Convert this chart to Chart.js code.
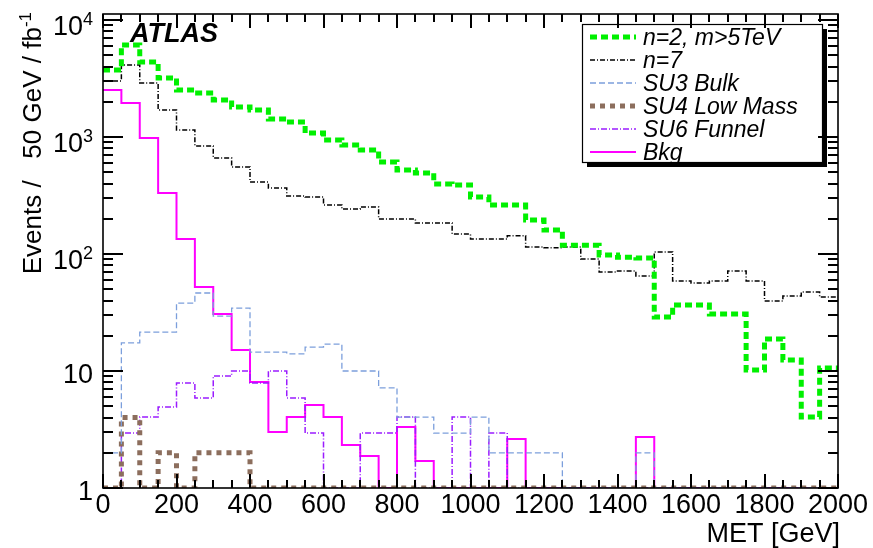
<!DOCTYPE html>
<html>
<head>
<meta charset="utf-8">
<script src="https://cdn.jsdelivr.net/npm/chart.js@4/dist/chart.umd.min.js"></script>
</head>
<body style="margin:0;background:#fff">
<canvas id="c" width="873" height="548"></canvas>
<script>
// ---- data: MET bins (lower edges, GeV), 50 GeV wide ----
const binLow = [0,50,100,150,200,250,300,350,400,450,500,550,600,650,700,750,800,850,900,950,
  1000,1050,1100,1150,1200,1250,1300,1350,1400,1450,1500,1550,1600,1650,1700,1750,1800,1850,1900,1950];
const binHighEnd = 2000;

const n2m5 = [3740,6110,4375,3190,2520,2380,2070,1800,1700,1425,1340,1080,943,855,774,611,522,492,397,389,
  307,262,262,195,160,119,119,98,94,92.5,28.9,36.6,36.6,30.7,30.7,10.2,18.8,12.4,4.04,10.6];
const n7 = [3010,4120,2900,1700,1150,838,662,554,412,366,313,307,262,242,252,199,199,184,184,148,
  134,134,143,115,113,115,90.6,70.2,71.6,64.9,104,58.8,56.5,58.8,71.6,58.8,39.7,43.8,47.3,42.9];
const su3Bulk = [2.0,17.4,21.5,21.5,38.1,46.4,29.5,34.5,14.5,14.5,14.0,16.0,17.0,10,10,7.16,4.04,4.04,2.95,2.95,
  4.04,2.0,2.0,2.0,2.0,0,0,0,0,2.0,0,0,0,0,0,0,0,0,0,0];
const su4LowMass = [0,4.0,0,2.0,0,2.0,2.0,2.0,0,0,0,0,0,0,0,0,0,0,0,0,
  0,0,0,0,0,0,0,0,0,0,0,0,0,0,0,0,0,0,0,0];
const su6Funnel = [0,2.95,4.04,4.92,7.9,5.88,9.06,10,7.9,10,5.88,2.95,0,0,2.95,2.95,4.04,0,0,4.04,
  0,2.95,0,0,0,0,0,0,0,0,0,0,0,0,0,0,0,0,0,0];
const bkg = [2520,1950,980,332,134,52.2,30.7,15.1,8.05,3.01,4.04,5.12,4.04,2.33,1.88,0,3.32,1.70,0,0,
  0,0,2.62,0,0,0,0,0,0,2.73,0,0,0,0,0,0,0,0,0,0];

const seriesNames = ['n=2, m>5TeV','n=7','SU3 Bulk','SU4 Low Mass','SU6 Funnel','Bkg'];
const xTickLabels = ['0','200','400','600','800','1000','1200','1400','1600','1800','2000'];
const xTickValues = [0,200,400,600,800,1000,1200,1400,1600,1800,2000];
const yDecadeValues = [1,10,100,1000,10000];
const yDecadeLabels = [['1',''],['10',''],['10','2'],['10','3'],['10','4']];
const yMinorMultipliers = [2,3,4,5,6,7,8,9];
const xTitle = 'MET [GeV]';
const yTitleMain = 'Events /   50 GeV / fb';
const yTitleSup = '-1';

const Y_MIN = 1, Y_MAX = 11250;
const FONT = '"Liberation Sans", Arial, Helvetica, sans-serif';

function histPoints(vals){
  const pts = binLow.map((x,i)=>({x:x, y: vals[i] > 0 ? vals[i] : Y_MIN}));
  const last = vals[vals.length-1];
  pts.push({x: binHighEnd, y: last > 0 ? last : Y_MIN});
  return pts;
}

const lineStyles = [
  {color:'#00f000', width:5, dash:[7,4]},
  {color:'#000000', width:1.5, dash:[5,2,1,2]},
  {color:'#7c9fdc', width:1.3, dash:[6,3]},
  {color:'#8c6e5d', width:5, dash:[5,5]},
  {color:'#9b1cff', width:1.5, dash:[6,2,1,2]},
  {color:'#ff00ff', width:2, dash:[]}
];
const seriesVals = [n2m5, n7, su3Bulk, su4LowMass, su6Funnel, bkg];

const chartDatasets = seriesVals.map((v,i)=>({
  label: seriesNames[i],
  data: histPoints(v),
  borderColor: lineStyles[i].color,
  backgroundColor: lineStyles[i].color,
  borderWidth: lineStyles[i].width,
  borderDash: lineStyles[i].dash,
  stepped: 'before',
  pointRadius: 0,
  fill: false,
  tension: 0,
  borderCapStyle: 'butt'
}));

function drawTicks(chart){
  const ctx = chart.ctx;
  const xs = chart.scales.x, ys = chart.scales.y;
  const ca = chart.chartArea;
  ctx.save();
  ctx.fillStyle = '#000';
  const xTickAll = binLow.concat([binHighEnd]);
  for (let k = 0; k < xTickAll.length; k++) {
    const v = xTickAll[k];
    const px = Math.round(xs.getPixelForValue(v));
    const len = (v % 200 === 0) ? 14 : 8;
    ctx.fillRect(px - 1, ca.bottom - len, 2, len);
    ctx.fillRect(px - 1, ca.top, 2, len);
  }
  const mults = [1].concat(yMinorMultipliers);
  for (let a = 0; a < yDecadeValues.length; a++) {
    for (let b = 0; b < mults.length; b++) {
      const v = yDecadeValues[a] * mults[b];
      if (v > Y_MAX) continue;
      const len = mults[b] === 1 ? 20 : 10;
      const py = Math.round(ys.getPixelForValue(v));
      ctx.fillRect(ca.left, py - 1, len, 2);
      ctx.fillRect(ca.right - len, py - 1, len, 2);
    }
  }
  ctx.restore();
}

const decor = {
  id: 'decor',
  afterDraw(chart){
    const ctx = chart.ctx;
    const xs = chart.scales.x, ys = chart.scales.y;
    const ca = chart.chartArea;
    ctx.save();
    // frame
    ctx.strokeStyle = '#000';
    ctx.setLineDash([]);
    ctx.lineWidth = 1.6;
    ctx.strokeRect(ca.left, ca.top, ca.right - ca.left, ca.bottom - ca.top);

    // x tick labels
    ctx.fillStyle = '#000';
    ctx.font = '27px ' + FONT;
    ctx.textAlign = 'center';
    ctx.textBaseline = 'alphabetic';
    xTickValues.forEach((v,i)=>{
      ctx.fillText(xTickLabels[i], xs.getPixelForValue(v), 513);
    });
    // y tick labels with superscripts
    yDecadeValues.forEach((v,i)=>{
      const py = ys.getPixelForValue(v);
      const base = yDecadeLabels[i][0], sup = yDecadeLabels[i][1];
      ctx.textAlign = 'right';
      if (sup) {
        ctx.font = '18px ' + FONT;
        const sw = ctx.measureText(sup).width;
        ctx.fillText(sup, 93, py + 5);
        ctx.font = '27px ' + FONT;
        ctx.fillText(base, 93 - sw, py + 15);
      } else {
        ctx.font = '27px ' + FONT;
        ctx.fillText(base, 93, py + 12);
      }
    });
    // x title
    ctx.font = '27px ' + FONT;
    ctx.textAlign = 'right';
    ctx.fillText(xTitle, 840, 542);
    // y title (rotated)
    ctx.save();
    ctx.translate(41, 12);
    ctx.rotate(-Math.PI/2);
    ctx.font = '17px ' + FONT;
    const supW = ctx.measureText(yTitleSup).width;
    ctx.textAlign = 'right';
    ctx.fillText(yTitleSup, 0, -10);
    ctx.font = '26px ' + FONT;
    ctx.fillText(yTitleMain, -supW, 0);
    ctx.restore();

    // ATLAS label
    ctx.font = 'italic bold 27px ' + FONT;
    ctx.textAlign = 'left';
    ctx.fillText('ATLAS', 130, 42);

    // legend with shadow
    const lx = 582, ly = 24, lw = 240, lh = 138;
    ctx.fillStyle = '#000';
    ctx.fillRect(lx + 5, ly + 5, lw, lh);
    ctx.fillStyle = '#fff';
    ctx.fillRect(lx, ly, lw, lh);
    ctx.strokeStyle = '#000';
    ctx.lineWidth = 1.2;
    ctx.strokeRect(lx + 0.5, ly + 0.5, lw, lh);
    chart.data.datasets.forEach((ds,i)=>{
      const yy = 37 + i * 23;
      ctx.save();
      ctx.strokeStyle = ds.borderColor;
      ctx.lineWidth = ds.borderWidth;
      ctx.setLineDash(ds.borderDash);
      ctx.lineCap = 'butt';
      ctx.beginPath();
      ctx.moveTo(590, yy); ctx.lineTo(636, yy);
      ctx.stroke();
      ctx.restore();
      ctx.fillStyle = '#000';
      ctx.font = 'italic 23px ' + FONT;
      ctx.textAlign = 'left';
      ctx.fillText(ds.label, 643, yy + 8);
    });
    ctx.restore();

    // tick marks last
    drawTicks(chart);
  }
};

new Chart(document.getElementById('c'), {
  type: 'line',
  data: { datasets: chartDatasets },
  options: {
    responsive: false,
    animation: false,
    events: [],
    layout: { padding: { left: 103, right: 35, top: 14, bottom: 60 } },
    plugins: { legend: { display: false }, tooltip: { enabled: false }, title: { display: false } },
    scales: {
      x: { type: 'linear', min: 0, max: 2000, display: true,
           grid: { display: false, drawTicks: false }, border: { display: false },
           ticks: { display: false, stepSize: 50, maxTicksLimit: 100, autoSkip: false },
           afterFit: s => { s.height = 0; } },
      y: { type: 'logarithmic', min: Y_MIN, max: Y_MAX, display: true,
           grid: { display: false, drawTicks: false }, border: { display: false },
           ticks: { display: false, autoSkip: false },
           afterFit: s => { s.width = 0; } }
    }
  },
  plugins: [decor]
});
</script>
</body>
</html>
